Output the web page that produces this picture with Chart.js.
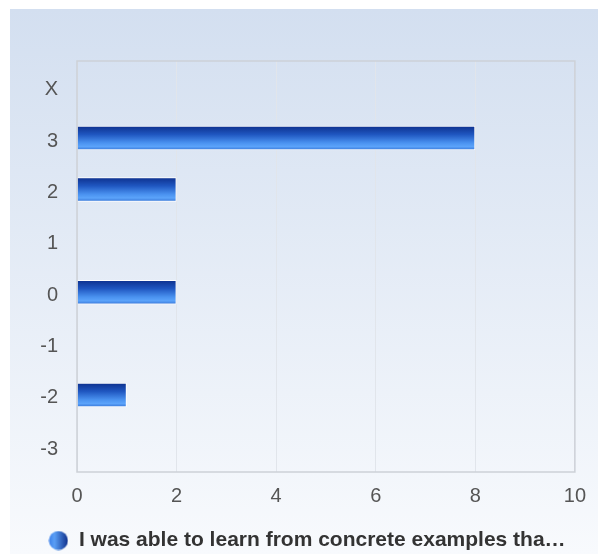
<!DOCTYPE html>
<html>
<head>
<meta charset="utf-8">
<script src="https://cdn.jsdelivr.net/npm/chart.js@4.4.1/dist/chart.umd.min.js"></script>
<style>
  html, body { margin: 0; padding: 0; background: #fff; }
  #wrap { position: relative; width: 598px; height: 554px; overflow: hidden; }
  #bg { position: absolute; left: 10px; top: 9px; right: 0; bottom: 0;
        background: linear-gradient(#d3dff0, #f8fafd); }
  #chart { position: absolute; left: 0; top: 0; }
</style>
</head>
<body>
<div id="wrap">
  <div id="bg"></div>
  <canvas id="chart" width="598" height="554"></canvas>
</div>
<script>
// chart data
const categories = ['X', '3', '2', '1', '0', '-1', '-2', '-3'];
const counts = [0, 8, 2, 0, 2, 0, 1, 0];
const xTickValues = [0, 2, 4, 6, 8, 10];
const seriesLabel = 'I was able to learn from concrete examples tha…';

const barPct = 0.475;
const tickFont = { family: '"Liberation Sans", Arial, sans-serif', size: 20 };

// vertical glossy gradient for each bar
function barFill(ctx) {
  const chart = ctx.chart;
  const y = chart.scales.y;
  if (!y || !chart.chartArea) return '#2e6ad8';
  const c = y.getPixelForValue(ctx.dataIndex);
  const half = (y.height / categories.length) * barPct / 2;
  const g = chart.ctx.createLinearGradient(0, c - half, 0, c + half);
  g.addColorStop(0, '#0d2f8c');
  g.addColorStop(0.35, '#1f56c0');
  g.addColorStop(0.7, '#4a92f0');
  g.addColorStop(0.85, '#5ba3fa');
  g.addColorStop(1, '#3473d6');
  return g;
}

// legend marker: shaded ball
function makeIcon() {
  const cv = document.createElement('canvas');
  cv.width = 20;
  cv.height = 20;
  const c = cv.getContext('2d');
  const g = c.createLinearGradient(0, 0, 20, 0);
  g.addColorStop(0, '#3a7ee8');
  g.addColorStop(0.3, '#5a9ff6');
  g.addColorStop(1, '#0c2c88');
  c.fillStyle = g;
  c.beginPath();
  c.arc(10, 10, 9.5, 0, Math.PI * 2);
  c.fill();
  return cv;
}
const icon = makeIcon();

const plotBorder = {
  id: 'plotBorder',
  afterDraw(chart) {
    const { ctx, chartArea: a } = chart;
    ctx.save();
    ctx.strokeStyle = '#cdd1d7';
    ctx.lineWidth = 1.5;
    ctx.strokeRect(a.left, a.top, a.right - a.left, a.bottom - a.top);
    ctx.restore();
  }
};

new Chart(document.getElementById('chart'), {
  type: 'bar',
  data: {
    labels: categories,
    datasets: [
      {
        label: seriesLabel,
        data: counts,
        backgroundColor: barFill,
        borderColor: '#ffffff',
        borderWidth: (ctx) => (ctx.raw ? 1 : 0),
        borderSkipped: 'start',
        categoryPercentage: 1,
        barPercentage: barPct
      }
    ]
  },
  options: {
    indexAxis: 'y',
    responsive: false,
    animation: false,
    layout: { padding: { top: 61, right: 22, left: 38, bottom: -7 } },
    plugins: {
      tooltip: { enabled: false },
      legend: {
        position: 'bottom',
        labels: {
          usePointStyle: true,
          pointStyleWidth: 20,
          padding: 6,
          color: '#333333',
          font: { family: '"Liberation Sans", Arial, sans-serif', size: 21, weight: 'bold' },
          generateLabels: (chart) =>
            Chart.defaults.plugins.legend.labels.generateLabels(chart).map((it) => ({
              ...it,
              pointStyle: icon
            }))
        }
      }
    },
    scales: {
      x: {
        min: xTickValues[0],
        max: xTickValues[xTickValues.length - 1],
        afterBuildTicks: (s) => { s.ticks = xTickValues.map((v) => ({ value: v })); },
        afterFit: (s) => { s.height = 52; },
        grid: { color: '#e1e5eb', drawTicks: false },
        border: { display: false },
        ticks: { color: '#555555', font: tickFont, padding: 12 }
      },
      y: {
        afterFit: (s) => { s.width = 39; },
        grid: { display: false, drawTicks: false },
        border: { display: false },
        ticks: { color: '#555555', font: tickFont, padding: 19, labelOffset: 3 }
      }
    }
  },
  plugins: [plotBorder]
});
</script>
</body>
</html>
